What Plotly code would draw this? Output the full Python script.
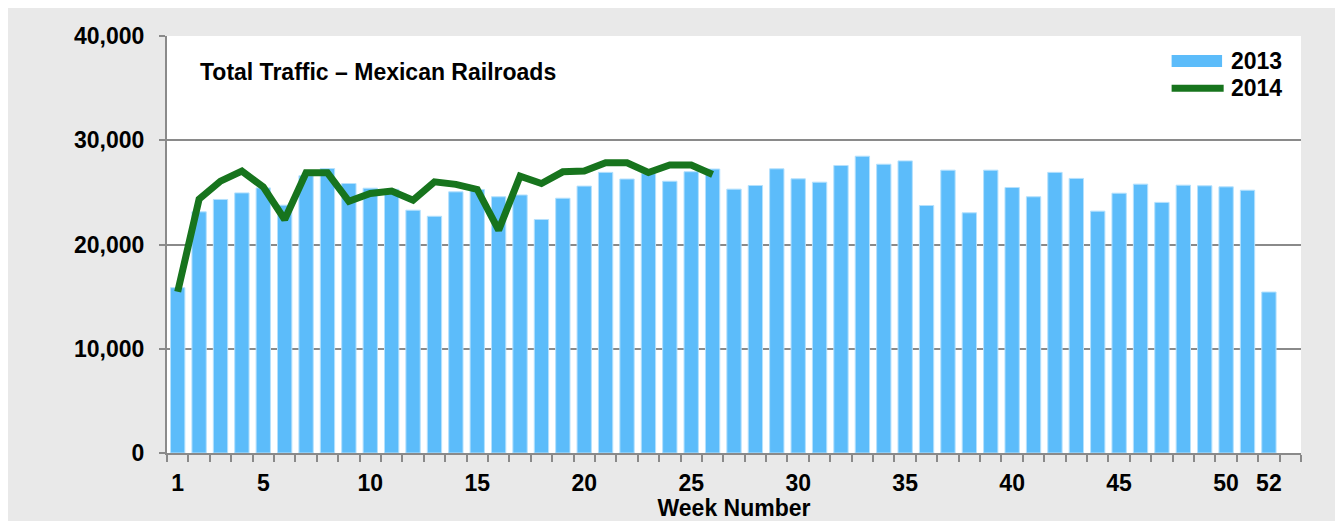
import plotly.graph_objects as go

weeks = list(range(1, 53))
traffic_2013 = [15860, 23130, 24320, 24950, 25430, 23770, 26600, 27290, 25850, 25400,
                25300, 23290, 22710, 25050, 25280, 24580, 24750, 22400, 24440, 25600,
                26920, 26280, 26800, 26070, 26980, 27240, 25310, 25660, 27260, 26300,
                25980, 27580, 28470, 27700, 28020, 23740, 27130, 23040, 27130, 25470,
                24580, 26920, 26340, 23200, 24920, 25790, 24040, 25690, 25630, 25530,
                25210, 15440]
weeks_2014 = list(range(1, 27))
traffic_2014 = [15470, 24350, 26080, 27040, 25520, 22400, 26880, 26880, 24150, 24890,
                25120, 24250, 26010, 25770, 25280, 21380, 26560, 25850, 26970, 27040,
                27840, 27840, 26910, 27620, 27620, 26720]
x_tick_labels = [1, 5, 10, 15, 20, 25, 30, 35, 40, 45, 50, 52]
y_ticks = [0, 10000, 20000, 30000, 40000]

BAR = "#5cbcfa"
LINE = "#17741d"
GRID = "#8a8a8a"
BG = "#e9e9e9"
FONT = "Liberation Sans"
FS = 23

fig = go.Figure()
fig.add_trace(go.Bar(x=weeks, y=traffic_2013, name="2013", marker_color=BAR,
                     marker_line=dict(color="#b5e1fd", width=1), showlegend=False))
fig.add_trace(go.Scatter(x=weeks_2014, y=traffic_2014, name="2014", mode="lines",
                         line=dict(color=LINE, width=7), showlegend=False))

fig.update_layout(
    width=1335, height=513,
    margin=dict(l=158.5, r=41.5, t=28, b=68),
    paper_bgcolor=BG, plot_bgcolor="white",
    bargap=0.33,
    font=dict(family=FONT, size=FS, color="black", weight="bold"),
    xaxis=dict(range=[0.5, 53.5], tickmode="array", tickvals=x_tick_labels,
               ticktext=[str(v) for v in x_tick_labels], ticks="",
               showgrid=False, showline=True, linecolor=GRID, linewidth=2,
               zeroline=False, ticklabelstandoff=8, automargin=False,
               minor=dict(ticks="outside", tickmode="linear", tick0=0.5, dtick=1,
                          ticklen=7, tickcolor=GRID, tickwidth=2, showgrid=False),
               title=dict(text="Week Number", standoff=0,
                          font=dict(family=FONT, size=FS, weight="bold"))),
    yaxis=dict(range=[0, 40000], tickmode="array", tickvals=y_ticks,
               tickformat=",", ticks="outside", ticklen=6, tickcolor=GRID, tickwidth=2,
               showgrid=True, gridcolor=GRID, gridwidth=2, automargin=False,
               showline=True, linecolor=GRID, linewidth=2, zeroline=False,
               ticklabelstandoff=10),
)

# chart title
fig.add_annotation(text="Total Traffic – Mexican Railroads", xref="paper", yref="paper",
                   x=0.0269, y=0.9137, xanchor="left", yanchor="middle", showarrow=False,
                   font=dict(family=FONT, size=FS, weight="bold"))

# legend
fig.add_shape(type="rect", xref="paper", yref="paper", x0=0.8859, x1=0.9304,
              y0=0.9257, y1=0.9544, fillcolor=BAR, line_width=0)
fig.add_shape(type="line", xref="paper", yref="paper", x0=0.8859, x1=0.9318,
              y0=0.8746, y1=0.8746, line=dict(color=LINE, width=7))
fig.add_annotation(text="2013", xref="paper", yref="paper", x=0.9361, y=0.9408,
                   xanchor="left", yanchor="middle", showarrow=False,
                   font=dict(family=FONT, size=FS, weight="bold"))
fig.add_annotation(text="2014", xref="paper", yref="paper", x=0.9361, y=0.8746,
                   xanchor="left", yanchor="middle", showarrow=False,
                   font=dict(family=FONT, size=FS, weight="bold"))

fig.write_html("out.html")
